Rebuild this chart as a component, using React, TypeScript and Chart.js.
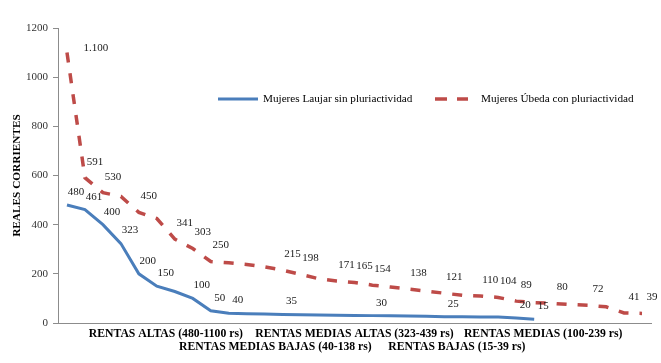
import React, { useEffect, useRef } from "react";
import { Chart, registerables } from "chart.js";

Chart.register(...registerables);

// ---- data ----
const groupNames = [
  "RENTAS ALTAS (480-1100 rs)",
  "RENTAS MEDIAS BAJAS (40-138 rs)",
  "RENTAS MEDIAS ALTAS (323-439 rs)",
  "RENTAS BAJAS (15-39 rs)",
  "RENTAS MEDIAS (100-239 rs)",
];
// position of each group caption along the category axis (category index units)
const groupAt = [5.5, 11.6, 16, 21.7, 26.5];
const categoryCount = 33;

const laujarName = "Mujeres Laujar sin pluriactividad";
const laujarValues = [480, 461, 400, 323, 200, 150, 128, 100, 50, 40, 38, 37, 35, 34, 33, 32, 31, 30, 29, 28, 27, 25, 25, 24, 24, 20, 15];
const laujarLabels = ["480", "461", "400", "323", "200", "150", "", "100", "50", "40", "", "", "35", "", "", "", "", "30", "", "", "", "25", "", "", "", "20", "15"];

const ubedaName = "Mujeres Úbeda con pluriactividad";
const ubedaValues = [1100, 591, 530, 515, 450, 425, 341, 303, 250, 245, 238, 228, 215, 198, 180, 171, 165, 154, 146, 138, 130, 121, 113, 110, 104, 89, 83, 80, 75, 72, 66, 41, 39];
const ubedaLabels = ["1.100", "591", "530", "", "450", "", "341", "303", "250", "", "", "", "215", "198", "", "171", "165", "154", "", "138", "", "121", "", "110", "104", "89", "", "80", "", "72", "", "41", "39"];

const yTicks = [0, 200, 400, 600, 800, 1000, 1200];

// ---- style ----
const SERIF = "'Liberation Serif', 'Times New Roman', serif";
const BLUE = "#4a7ebb";
const RED = "#be4b48";
const AXIS = "#8c8c8c";

const categories = Array.from({ length: categoryCount }, (_, i) => String(i + 1));

const labelStyle = [
  { texts: laujarLabels, dx: 9, dy: -13 },
  { texts: ubedaLabels, dx: 10, dy: -16 },
];

const pointLabelPlugin = {
  id: "pointLabels",
  afterDatasetsDraw(chart: any) {
    const ctx = chart.ctx;
    ctx.save();
    ctx.font = `11px ${SERIF}`;
    ctx.fillStyle = "#1a1a1a";
    ctx.textAlign = "center";
    ctx.textBaseline = "middle";
    chart.data.datasets.forEach((_: any, di: number) => {
      const meta = chart.getDatasetMeta(di);
      const st = labelStyle[di];
      meta.data.forEach((pt: any, i: number) => {
        const t = st.texts[i];
        if (!t) return;
        let x = pt.x + st.dx;
        let y = pt.y + st.dy;
        if (di === 1 && i === 0) {
          x = pt.x + 29;
          y = pt.y - 4;
        }
        ctx.fillText(t, x, y);
      });
    });
    ctx.restore();
  },
};

// group captions on the category axis, staggered over two rows
const groupCaptionPlugin = {
  id: "groupCaptions",
  afterDraw(chart: any) {
    const ctx = chart.ctx;
    const xs = chart.scales.x;
    const base = chart.chartArea.bottom;
    ctx.save();
    ctx.font = `bold 11.7px ${SERIF}`;
    ctx.fillStyle = "#000";
    ctx.textAlign = "center";
    ctx.textBaseline = "middle";
    groupNames.forEach((name, g) => {
      const x = xs.getPixelForValue(groupAt[g]);
      const y = base + (g % 2 === 0 ? 10.5 : 23.5);
      ctx.fillText(name, x, y);
    });
    ctx.restore();
  },
};

const legendPlugin = {
  id: "innerLegend",
  afterDraw(chart: any) {
    const ctx = chart.ctx;
    const y = 99;
    ctx.save();
    ctx.lineCap = "butt";
    ctx.strokeStyle = BLUE;
    ctx.lineWidth = 3;
    ctx.beginPath();
    ctx.moveTo(218, y);
    ctx.lineTo(258, y);
    ctx.stroke();
    ctx.strokeStyle = RED;
    ctx.lineWidth = 3.5;
    ctx.beginPath();
    ctx.moveTo(435, y);
    ctx.lineTo(447, y);
    ctx.moveTo(457, y);
    ctx.lineTo(468, y);
    ctx.stroke();
    ctx.font = `11.2px ${SERIF}`;
    ctx.fillStyle = "#000";
    ctx.textAlign = "left";
    ctx.textBaseline = "middle";
    ctx.fillText(laujarName, 263, y);
    ctx.fillText(ubedaName, 481, y);
    ctx.restore();
  },
};

const bgPlugin = {
  id: "bg",
  beforeDraw(chart: any) {
    const ctx = chart.ctx;
    ctx.save();
    ctx.fillStyle = "#fff";
    ctx.fillRect(0, 0, chart.width, chart.height);
    ctx.restore();
  },
};

export default function App() {
  const ref = useRef<HTMLCanvasElement>(null);

  useEffect(() => {
    if (!ref.current) return;
    const chart = new Chart(ref.current, {
      type: "line",
      data: {
        labels: categories,
        datasets: [
          {
            label: laujarName,
            data: laujarValues,
            borderColor: BLUE,
            backgroundColor: BLUE,
            borderWidth: 3,
            pointRadius: 0,
            tension: 0,
            fill: false,
          },
          {
            label: ubedaName,
            data: ubedaValues,
            borderColor: RED,
            backgroundColor: RED,
            borderWidth: 3.5,
            borderDash: [10, 11],
            borderCapStyle: "butt",
            pointRadius: 0,
            tension: 0,
            fill: false,
          },
        ],
      },
      options: {
        animation: false,
        responsive: false,
        layout: { padding: { top: 28, right: 10, left: 0, bottom: 0 } },
        plugins: {
          legend: { display: false },
          tooltip: { enabled: false },
        },
        scales: {
          x: {
            type: "category",
            offset: true,
            grid: { display: false },
            border: { display: true, color: AXIS, width: 1 },
            ticks: { display: false },
            afterFit: (s: any) => {
              s.height = 40;
            },
          },
          y: {
            min: 0,
            max: 1200,
            afterBuildTicks: (s: any) => {
              s.ticks = yTicks.map((v) => ({ value: v }));
            },
            grid: {
              display: true,
              drawOnChartArea: false,
              drawTicks: true,
              tickLength: 5,
              color: AXIS,
            },
            border: { display: true, color: AXIS, width: 1 },
            ticks: {
              padding: 5,
              color: "#333",
              font: { family: SERIF, size: 11 },
              callback: (v: any) => String(v),
            },
            title: {
              display: true,
              text: "REALES CORRIENTES",
              color: "#000",
              font: { family: SERIF, size: 11.3, weight: "bold" },
              padding: { top: 10, bottom: 0 },
            },
            afterFit: (s: any) => {
              s.width = 58;
            },
          },
        },
      },
      plugins: [bgPlugin, pointLabelPlugin, groupCaptionPlugin, legendPlugin],
    });
    return () => chart.destroy();
  }, []);

  return (
    <div style={{ position: "absolute", left: 0, top: 0, width: 661, height: 363, background: "#fff" }}>
      <canvas ref={ref} width={661} height={363} style={{ display: "block", width: 661, height: 363 }} />
    </div>
  );
}
